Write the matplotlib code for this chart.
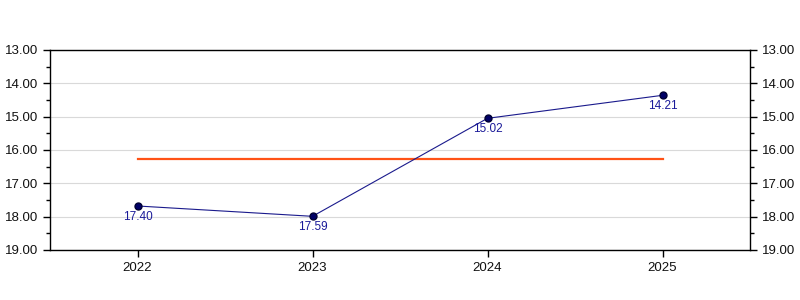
import matplotlib
matplotlib.use("Agg")
import matplotlib.pyplot as plt
import numpy as np
from matplotlib.ticker import MultipleLocator, FormatStrFormatter

plt.rcParams['font.family'] = ['Liberation Sans', 'DejaVu Sans']

years = [2022, 2023, 2024, 2025]
values = [17.68, 17.99, 15.05, 14.36]
point_labels = ["17.40", "17.59", "15.02", "14.21"]
average = 16.28

fig = plt.figure(figsize=(8, 3), dpi=100)
ax = fig.add_axes([0.0625, 0.1667, 0.875, 0.6667])

ax.plot(years, values, color="#1a1a8c", lw=0.8, marker="o", ms=5,
        mfc="#000066", mec="#000033", zorder=3)
ax.plot([years[0], years[-1]], [average, average], color="#ff5216", lw=1.6, zorder=2)

for x, y, t in zip(years, values, point_labels):
    ax.annotate(t, (x, y), xytext=(0, -3.5), textcoords="offset points",
                ha="center", va="top", fontsize=8.5, color="#1a1a99")

ax.set_xlim(2021.5, 2025.5)
ax.set_ylim(19, 13)
ax.set_xticks(years)
ax.yaxis.set_major_locator(MultipleLocator(1))
ax.yaxis.set_minor_locator(MultipleLocator(0.5))
ax.yaxis.set_major_formatter(FormatStrFormatter("%.2f"))
ax.grid(axis="y", color="#d9d9d9", lw=0.8)
ax.set_axisbelow(True)

ax.tick_params(axis="both", which="major", labelsize=9.5, length=5, width=1,
               colors="black", labelcolor="#111111")
ax.tick_params(axis="y", which="minor", length=3, width=1)
ax.tick_params(axis="y", which="both", left=True, right=True, labelleft=True, labelright=True)
for s in ax.spines.values():
    s.set_linewidth(1)

fig.savefig("out.png", dpi=100)
